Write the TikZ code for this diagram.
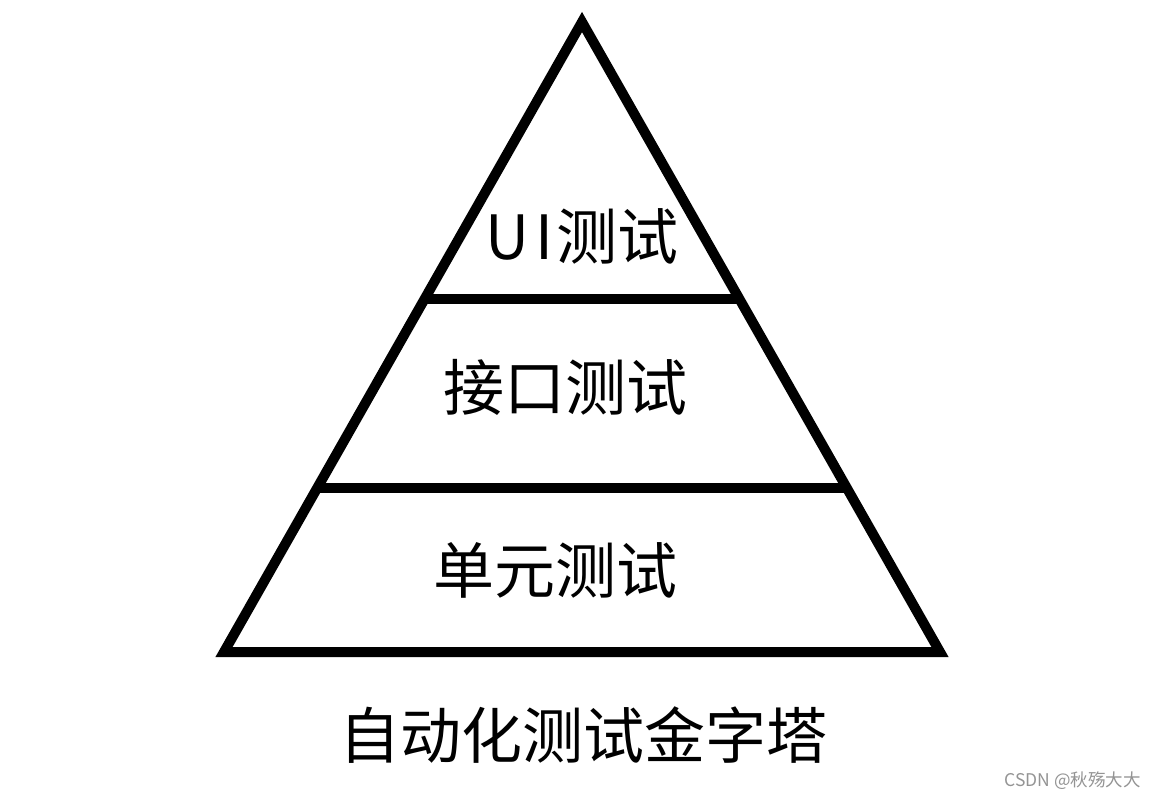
\documentclass[tikz,border=0pt]{standalone}
\usepackage{fontspec}
\newfontfamily\cjk{Noto Sans CJK SC}
\usetikzlibrary{calc}
\tikzset{
  edge/.style={line width=10pt, line join=miter, draw=black},
  lbl/.style={font=\cjk\fontsize{61}{63}\selectfont, text=black, inner sep=0pt},
  wmark/.style={font=\cjk\fontsize{17.5}{19}\selectfont, text=black!42, inner sep=0pt}
}
\begin{document}
\begin{tikzpicture}[x=1pt,y=-1pt]
\fill[white] (0,0) rectangle (1157,799);
\useasboundingbox (0,0) rectangle (1157,799);
\coordinate (A) at (582,22);
\coordinate (BL) at (224,652);
\coordinate (BR) at (940,652);
\draw[edge] (A) -- (BL) -- (BR) -- cycle;
\coordinate (L1) at ($(A)!0.4397!(BL)$);
\coordinate (R1) at ($(A)!0.4397!(BR)$);
\coordinate (L2) at ($(A)!0.7397!(BL)$);
\coordinate (R2) at ($(A)!0.7397!(BR)$);
\draw[edge] (L1) -- (R1);
\draw[edge] (L2) -- (R2);
\node[lbl] (ui) at (582,236) {U\kern6pt I\kern3pt 测试};
\node[lbl] (api) at (565,387) {接口测试};
\node[lbl] (unit) at (555,570) {单元测试};
\node[lbl] (title) at (583,735) {自动化测试金字塔};
\node[wmark, anchor=east] (wm) at (1141,781) {CSDN @秋殇大大};
\end{tikzpicture}
\end{document}
